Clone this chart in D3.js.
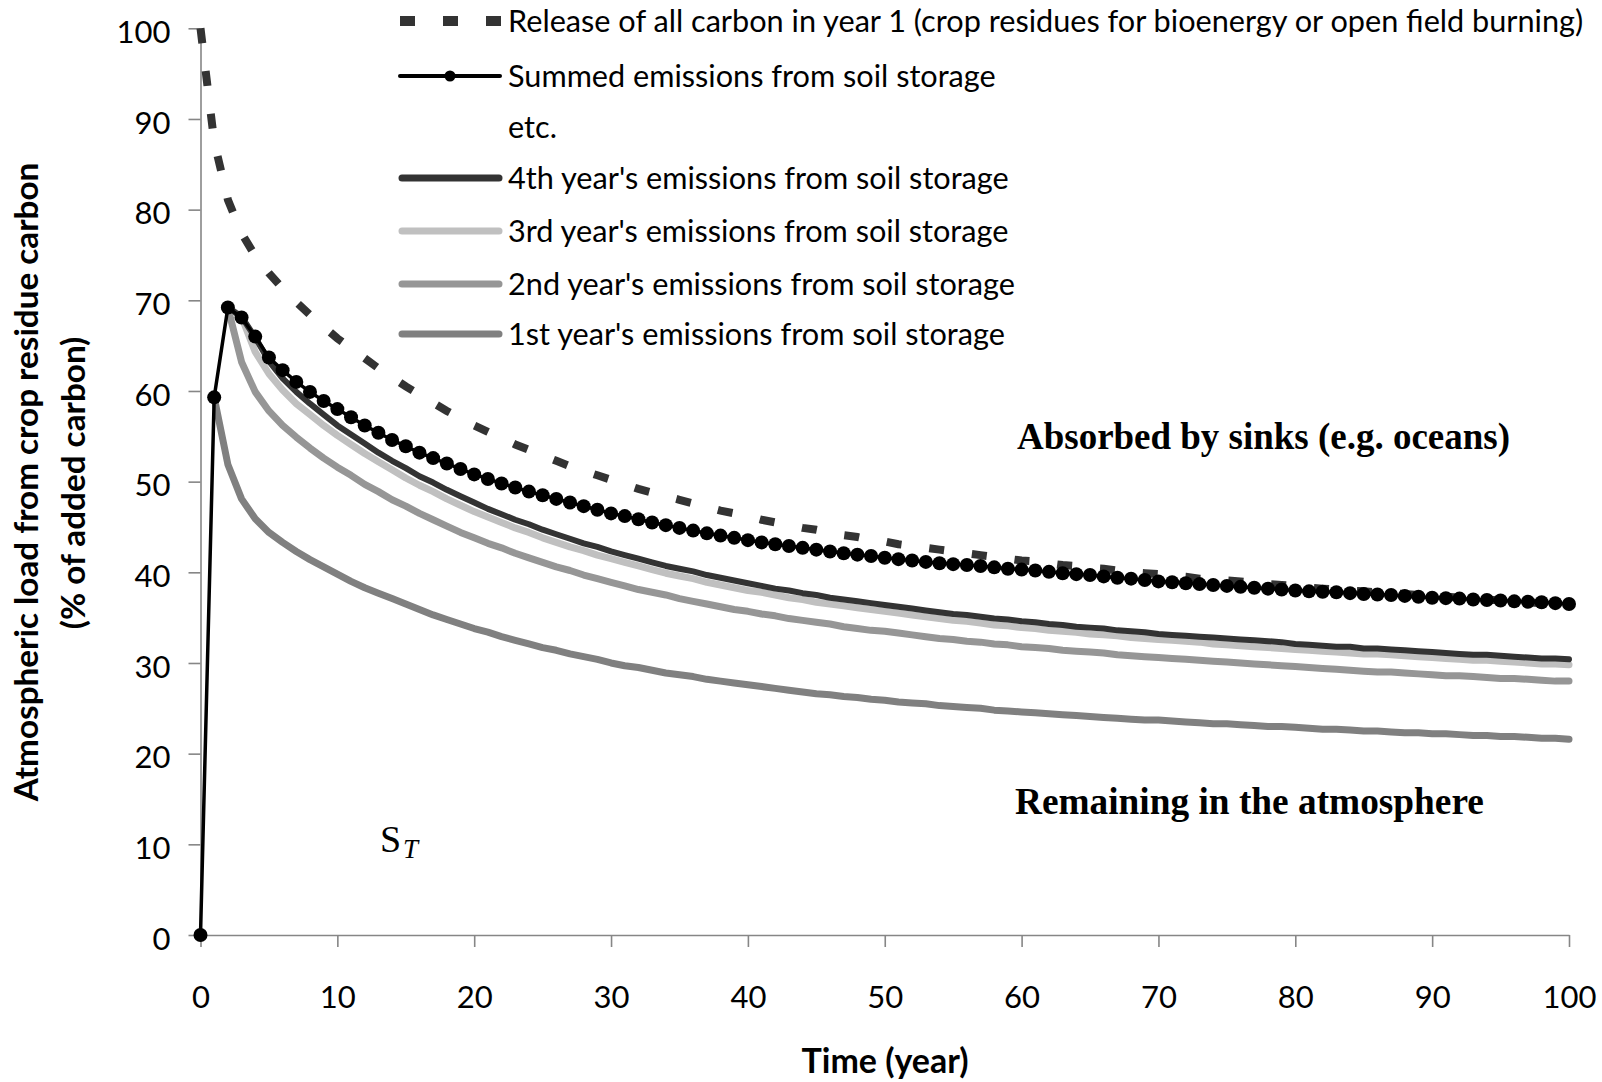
<!DOCTYPE html>
<html>
<head>
<meta charset="utf-8">
<script src="https://cdn.jsdelivr.net/npm/d3@7"></script>
<style>
  body { margin: 0; background: #fff; }
  svg { display: block; }
  text { font-family: Lato, "Open Sans", sans-serif; fill: #000; }
</style>
</head>
<body>
<svg id="chart" width="1602" height="1082"></svg>
<script>
// years on the x axis
var years = [
  0, 1, 2, 3, 4, 5, 6, 7, 8, 9,
  10, 11, 12, 13, 14, 15, 16, 17, 18, 19,
  20, 21, 22, 23, 24, 25, 26, 27, 28, 29,
  30, 31, 32, 33, 34, 35, 36, 37, 38, 39,
  40, 41, 42, 43, 44, 45, 46, 47, 48, 49,
  50, 51, 52, 53, 54, 55, 56, 57, 58, 59,
  60, 61, 62, 63, 64, 65, 66, 67, 68, 69,
  70, 71, 72, 73, 74, 75, 76, 77, 78, 79,
  80, 81, 82, 83, 84, 85, 86, 87, 88, 89,
  90, 91, 92, 93, 94, 95, 96, 97, 98, 99,
  100
];

// release of all carbon in year 1
var releaseAll = [
  100.0, 87.5, 81.1, 77.4, 74.9, 73.0, 71.3, 69.8, 68.4, 67.1,
  65.8, 64.7, 63.6, 62.5, 61.5, 60.5, 59.6, 58.7, 57.8, 57.0,
  56.2, 55.5, 54.8, 54.1, 53.5, 52.9, 52.3, 51.7, 51.2, 50.7,
  50.2, 49.7, 49.2, 48.8, 48.4, 48.0, 47.6, 47.2, 46.8, 46.5,
  46.2, 45.8, 45.5, 45.2, 44.9, 44.7, 44.4, 44.1, 43.9, 43.6,
  43.4, 43.1, 42.9, 42.7, 42.5, 42.3, 42.1, 41.9, 41.7, 41.5,
  41.3, 41.2, 41.0, 40.8, 40.7, 40.5, 40.4, 40.2, 40.0, 39.9,
  39.8, 39.6, 39.5, 39.3, 39.2, 39.1, 39.0, 38.8, 38.7, 38.6,
  38.5, 38.3, 38.2, 38.1, 38.0, 37.9, 37.8, 37.7, 37.6, 37.5,
  37.4, 37.3, 37.2, 37.1, 37.0, 36.9, 36.8, 36.7, 36.6, 36.5,
  36.4
];

// summed emissions from soil storage
var summed = [
  0.0, 59.3, 69.2, 68.1, 66.0, 63.7, 62.3, 61.0, 59.9, 58.9,
  58.0, 57.1, 56.2, 55.4, 54.6, 53.9, 53.2, 52.6, 52.0, 51.4,
  50.8, 50.3, 49.8, 49.35, 48.9, 48.5, 48.1, 47.7, 47.3, 46.9,
  46.5, 46.2, 45.85, 45.5, 45.2, 44.9, 44.6, 44.3, 44.05, 43.8,
  43.55, 43.3, 43.1, 42.9, 42.7, 42.5, 42.3, 42.1, 41.95, 41.8,
  41.6, 41.45, 41.3, 41.15, 41.0, 40.9, 40.8, 40.7, 40.55, 40.4,
  40.3, 40.2, 40.05, 39.9, 39.8, 39.7, 39.55, 39.4, 39.3, 39.15,
  39.0, 38.9, 38.8, 38.7, 38.6, 38.5, 38.4, 38.3, 38.2, 38.1,
  38.0, 37.9, 37.85, 37.8, 37.7, 37.6, 37.55, 37.5, 37.4, 37.3,
  37.2, 37.15, 37.1, 37.0, 36.95, 36.9, 36.8, 36.75, 36.7, 36.6,
  36.5
];

var year4 = [
  null, null, 69.2, 68.2, 65.9, 63.3, 61.4, 59.9, 58.6, 57.4,
  56.2, 55.2, 54.2, 53.2, 52.3, 51.5, 50.6, 49.9, 49.1, 48.4,
  47.7, 47.0, 46.4, 45.8, 45.3, 44.7, 44.2, 43.7, 43.2, 42.8,
  42.3, 41.9, 41.5, 41.1, 40.7, 40.4, 40.1, 39.7, 39.4, 39.1,
  38.8, 38.5, 38.2, 38.0, 37.7, 37.5, 37.2, 37.0, 36.8, 36.6,
  36.4, 36.2, 36.0, 35.8, 35.6, 35.4, 35.3, 35.1, 34.9, 34.8,
  34.6, 34.5, 34.3, 34.2, 34.0, 33.9, 33.8, 33.6, 33.5, 33.4,
  33.2, 33.1, 33.0, 32.9, 32.8, 32.7, 32.6, 32.5, 32.4, 32.3,
  32.1, 32.0, 31.9, 31.8, 31.8, 31.6, 31.6, 31.5, 31.4, 31.3,
  31.2, 31.1, 31.0, 30.9, 30.9, 30.8, 30.7, 30.6, 30.5, 30.5,
  30.4
];

var year3 = [
  null, null, 69.2, 68.2, 64.3, 61.9, 60.1, 58.6, 57.4, 56.2,
  55.1, 54.1, 53.1, 52.2, 51.3, 50.4, 49.6, 48.9, 48.1, 47.4,
  46.7, 46.1, 45.5, 44.9, 44.4, 43.8, 43.3, 42.8, 42.4, 41.9,
  41.5, 41.1, 40.7, 40.3, 39.9, 39.6, 39.3, 38.9, 38.6, 38.3,
  38.0, 37.8, 37.5, 37.2, 37.0, 36.7, 36.5, 36.3, 36.1, 35.9,
  35.7, 35.5, 35.3, 35.1, 34.9, 34.7, 34.6, 34.4, 34.2, 34.1,
  33.9, 33.8, 33.6, 33.5, 33.4, 33.2, 33.1, 33.0, 32.8, 32.7,
  32.6, 32.5, 32.4, 32.3, 32.1, 32.0, 31.9, 31.8, 31.7, 31.6,
  31.5, 31.4, 31.3, 31.2, 31.1, 31.0, 31.0, 30.9, 30.8, 30.7,
  30.6, 30.5, 30.4, 30.3, 30.3, 30.2, 30.1, 30.0, 29.9, 29.9,
  29.8
];

var year2 = [
  null, null, 69.2, 63.2, 59.9, 57.8, 56.2, 54.9, 53.7, 52.6,
  51.6, 50.7, 49.7, 48.9, 48.0, 47.3, 46.5, 45.8, 45.1, 44.4,
  43.8, 43.2, 42.7, 42.1, 41.6, 41.1, 40.6, 40.2, 39.7, 39.3,
  38.9, 38.5, 38.1, 37.8, 37.5, 37.1, 36.8, 36.5, 36.2, 35.9,
  35.7, 35.4, 35.2, 34.9, 34.7, 34.5, 34.3, 34.0, 33.8, 33.6,
  33.5, 33.3, 33.1, 32.9, 32.7, 32.6, 32.4, 32.3, 32.1, 32.0,
  31.8, 31.7, 31.6, 31.4, 31.3, 31.2, 31.1, 30.9, 30.8, 30.7,
  30.6, 30.5, 30.4, 30.3, 30.2, 30.1, 30.0, 29.9, 29.8, 29.7,
  29.6, 29.5, 29.4, 29.3, 29.2, 29.1, 29.0, 29.0, 28.9, 28.8,
  28.7, 28.6, 28.6, 28.5, 28.4, 28.3, 28.3, 28.2, 28.1, 28.0,
  28.0
];

var year1 = [
  null, 59.3, 51.9, 48.1, 45.9, 44.4, 43.3, 42.3, 41.4, 40.6,
  39.8, 39.0, 38.3, 37.7, 37.1, 36.5, 35.9, 35.3, 34.8, 34.3,
  33.8, 33.4, 32.9, 32.5, 32.1, 31.7, 31.4, 31.0, 30.7, 30.4,
  30.0, 29.7, 29.5, 29.2, 28.9, 28.7, 28.5, 28.2, 28.0, 27.8,
  27.6, 27.4, 27.2, 27.0, 26.8, 26.6, 26.5, 26.3, 26.2, 26.0,
  25.9, 25.7, 25.6, 25.5, 25.3, 25.2, 25.1, 25.0, 24.8, 24.7,
  24.6, 24.5, 24.4, 24.3, 24.2, 24.1, 24.0, 23.9, 23.8, 23.7,
  23.7, 23.6, 23.5, 23.4, 23.3, 23.3, 23.2, 23.1, 23.0, 23.0,
  22.9, 22.8, 22.7, 22.7, 22.6, 22.5, 22.5, 22.4, 22.3, 22.3,
  22.2, 22.2, 22.1, 22.0, 22.0, 21.9, 21.9, 21.8, 21.7, 21.7,
  21.6
];

var yTicks = [0, 10, 20, 30, 40, 50, 60, 70, 80, 90, 100];
var xTicks = [0, 10, 20, 30, 40, 50, 60, 70, 80, 90, 100];

var legendLabels = [
  "Release of all carbon in year 1 (crop residues for bioenergy or open field burning)",
  "Summed emissions from soil storage",
  "etc.",
  "4th year's emissions from soil storage",
  "3rd year's emissions from soil storage",
  "2nd year's emissions from soil storage",
  "1st year's emissions from soil storage"
];

var svg = d3.select("#chart");

var x = d3.scaleLinear().domain([0, 100]).range([200.5, 1569]);
var y = d3.scaleLinear().domain([0, 100]).range([935, 28.3]);

function fitWidth(sel, w) {
  var len = sel.node().getComputedTextLength();
  var fs = parseFloat(sel.attr("font-size"));
  var nfs = fs * w / len;
  sel.attr("font-size", nfs);
  return nfs;
}

// axes
var gy = svg.append("g")
  .attr("transform", "translate(" + x(0) + ",0)")
  .call(d3.axisLeft(y).tickValues(yTicks).tickSize(12).tickSizeOuter(0).tickPadding(18));

var gx = svg.append("g")
  .attr("transform", "translate(0," + y(0) + ")")
  .call(d3.axisBottom(x).tickValues(xTicks).tickSize(12).tickSizeOuter(0));

[gy, gx].forEach(function (g) {
  g.attr("font-family", null).attr("font-size", null);
  g.select(".domain").attr("stroke", "#868686").attr("stroke-width", 1.6);
  g.selectAll(".tick line").attr("stroke", "#868686").attr("stroke-width", 1.6);
  g.selectAll(".tick text").attr("font-size", 31).attr("fill", "#111");
});
gy.selectAll(".tick text").attr("dy", "0.46em");
gx.selectAll(".tick text").attr("y", 73).attr("dy", null);

// series
function series(vals) {
  return years.map(function (t, i) { return { t: t, v: vals[i] }; });
}

var line = d3.line()
  .defined(function (d) { return d.v != null; })
  .x(function (d) { return x(d.t); })
  .y(function (d) { return y(d.v); });

var plot = svg.append("g");

plot.append("path")
  .datum(series(releaseAll))
  .attr("d", line)
  .attr("fill", "none")
  .attr("stroke", "#333333")
  .attr("stroke-width", 8)
  .attr("stroke-dasharray", "15,28");

var solid = [
  { vals: year1, color: "#808080", w: 7 },
  { vals: year2, color: "#969696", w: 7 },
  { vals: year3, color: "#c0c0c0", w: 7 },
  { vals: year4, color: "#333333", w: 6 }
];

solid.forEach(function (s) {
  plot.append("path")
    .datum(series(s.vals))
    .attr("d", line)
    .attr("fill", "none")
    .attr("stroke", s.color)
    .attr("stroke-width", s.w)
    .attr("stroke-linejoin", "round")
    .attr("stroke-linecap", "round");
});

plot.append("path")
  .datum(series(summed))
  .attr("d", line)
  .attr("fill", "none")
  .attr("stroke", "#000")
  .attr("stroke-width", 3.5)
  .attr("stroke-linejoin", "round");

plot.selectAll(".dot")
  .data(series(summed))
  .enter().append("circle")
  .attr("class", "dot")
  .attr("cx", function (d) { return x(d.t); })
  .attr("cy", function (d) { return y(d.v); })
  .attr("r", 7)
  .attr("fill", "#000");

// legend
var legendY = [21, 76, 127, 178, 231, 284, 334];
var legend = svg.append("g");

legend.append("line")
  .attr("x1", 400).attr("x2", 502).attr("y1", legendY[0]).attr("y2", legendY[0])
  .attr("stroke", "#333333").attr("stroke-width", 10).attr("stroke-dasharray", "15,28");

legend.append("line")
  .attr("x1", 400).attr("x2", 500).attr("y1", legendY[1]).attr("y2", legendY[1])
  .attr("stroke", "#000").attr("stroke-width", 4).attr("stroke-linecap", "round");
legend.append("circle").attr("cx", 450).attr("cy", legendY[1]).attr("r", 5.5).attr("fill", "#000");

[{ i: 3, color: "#333333" }, { i: 4, color: "#c0c0c0" }, { i: 5, color: "#969696" }, { i: 6, color: "#808080" }]
  .forEach(function (s) {
    legend.append("line")
      .attr("x1", 402).attr("x2", 499).attr("y1", legendY[s.i]).attr("y2", legendY[s.i])
      .attr("stroke", s.color).attr("stroke-width", 7).attr("stroke-linecap", "round");
  });

var legendText = legend.selectAll("text")
  .data(legendLabels)
  .enter().append("text")
  .attr("x", 508)
  .attr("y", function (d, i) { return legendY[i]; })
  .attr("dy", "0.36em")
  .attr("font-size", 26)
  .text(function (d) { return d; });

var lfs = fitWidth(d3.select(legendText.nodes()[0]), 1076);
legendText.attr("font-size", lfs);

// axis titles
var yTitle1 = svg.append("text")
  .attr("transform", "translate(38,482) rotate(-90)")
  .attr("text-anchor", "middle")
  .attr("font-weight", "bold")
  .attr("font-size", 28)
  .text("Atmospheric load from crop residue carbon");
var tfs = fitWidth(yTitle1, 639);

svg.append("text")
  .attr("transform", "translate(85,483) rotate(-90)")
  .attr("text-anchor", "middle")
  .attr("font-weight", "bold")
  .attr("font-size", tfs)
  .text("(% of added carbon)");

var xTitle = svg.append("text")
  .attr("x", 885)
  .attr("y", 1073)
  .attr("text-anchor", "middle")
  .attr("font-weight", "bold")
  .attr("font-size", 28)
  .text("Time (year)");
fitWidth(xTitle, 167);

// annotations (serif, as in the source figure)
var serif = '"Liberation Serif", "DejaVu Serif", serif';
var absorbed = svg.append("text")
  .attr("x", 1017).attr("y", 449)
  .style("font-family", serif).attr("font-weight", "bold").attr("font-size", 32)
  .text("Absorbed by sinks (e.g. oceans)");
fitWidth(absorbed, 493);

var remaining = svg.append("text")
  .attr("x", 1015).attr("y", 814)
  .style("font-family", serif).attr("font-weight", "bold").attr("font-size", 32)
  .text("Remaining in the atmosphere");
fitWidth(remaining, 469);

svg.append("text")
  .attr("x", 380).attr("y", 852)
  .style("font-family", serif).attr("font-size", 38)
  .text("S");
svg.append("text")
  .attr("x", 403).attr("y", 858)
  .style("font-family", serif).attr("font-style", "italic").attr("font-size", 27)
  .text("T");
</script>
</body>
</html>
